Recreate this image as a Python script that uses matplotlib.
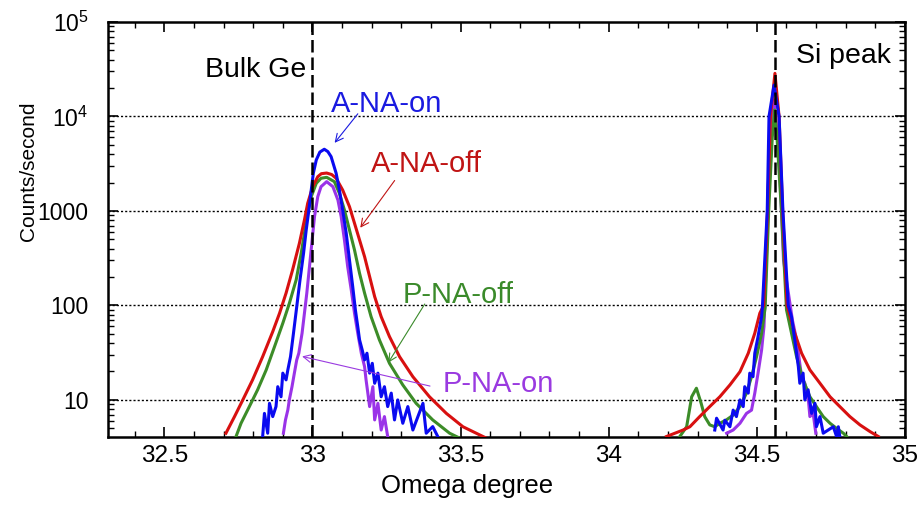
import numpy as np
import matplotlib
matplotlib.use("Agg")
import matplotlib.pyplot as plt
from matplotlib.ticker import FixedLocator, MultipleLocator, LogLocator, NullFormatter

plt.rcParams['font.family'] = ['Liberation Sans', 'DejaVu Sans']
plt.rcParams['mathtext.fontset'] = 'custom'
plt.rcParams['mathtext.rm'] = 'Liberation Sans'
plt.rcParams['mathtext.it'] = 'Liberation Sans'

NaN = float('nan')

# A-NA-off: Ge peak, gap, Si peak
a_off_omega = [32.708, 32.737, 32.765, 32.798, 32.832, 32.866, 32.889, 32.911, 32.933,
               32.956, 32.973, 32.984, 33.001, 33.018, 33.030, 33.048, 33.065, 33.080,
               33.102, 33.125, 33.142, 33.159, 33.176, 33.193, 33.210, 33.232, 33.260,
               33.294, 33.339, 33.395, 33.452, 33.508, 33.564, 33.587,
               NaN,
               34.195, 34.251, 34.274, 34.307, 34.341, 34.375, 34.409, 34.443, 34.471,
               34.493, 34.510, 34.523, 34.536, 34.546, 34.561, 34.575, 34.587, 34.602,
               34.613, 34.628, 34.651, 34.679, 34.713, 34.747, 34.780, 34.814, 34.848,
               34.882, 34.910]
a_off_counts = [4.44, 6.66, 10, 16.3, 28.7, 52.8, 82.7, 135, 238,
                455, 803, 1206, 1807, 2307, 2480, 2520, 2430, 2218,
                1667, 1111, 741, 493, 328, 202, 124, 76, 46.8,
                28.7, 17.6, 10.8, 7.2, 5.2, 4.27, 3.94,
                NaN,
                4.1, 4.8, 5.2, 6.66, 8.5, 10.8, 14.4, 19.9, 31.2,
                50.8, 82.7, 100, 1000, 10000, 28600, 10000, 1000, 100,
                75, 50.8, 31.2, 20.8, 15, 10.8, 8.5, 6.66, 5.44,
                4.62, 4.1]

# P-NA-off
p_off_omega = [32.742, 32.759, 32.787, 32.815, 32.844, 32.872, 32.900, 32.922, 32.945,
               32.962, 32.973, 32.984, 32.996, 33.013, 33.029, 33.048, 33.074, 33.091,
               33.108, 33.125, 33.142, 33.159, 33.176, 33.198, 33.226, 33.260, 33.305,
               33.350, 33.406, 33.463, 33.497,
               NaN,
               34.240, 34.263, 34.280, 34.296, 34.312, 34.324, 34.341, 34.358, 34.375,
               34.397, 34.420, 34.443, 34.465, 34.482, 34.499, 34.516, 34.528, 34.540,
               34.552, 34.560, 34.568, 34.583, 34.600, 34.617, 34.634, 34.656, 34.679,
               34.701, 34.724, 34.747, 34.769, 34.792, 34.803]
p_off_counts = [4.09, 5.66, 8.49, 12.8, 20.8, 36.6, 64.8, 105, 186,
                356, 581, 946, 1417, 1963, 2218, 2270, 2043, 1538,
                1025, 629, 386, 219, 135, 76, 43.2, 24.4, 14.4,
                9.2, 6.14, 4.44, 3.94,
                NaN,
                4.1, 5.2, 10.8, 13.3, 9.2, 6.66, 5.44, 5.2, 5.66,
                6.14, 6.9, 8.5, 11.8, 17.6, 28.7, 50.8, 95, 1000,
                6000, 11700, 6000, 1000, 90, 50.8, 28.7, 16.3, 10.8,
                8.5, 6.66, 5.66, 5.0, 4.44, 4.1]

# A-NA-on
a_on_omega = [32.832, 32.838, 32.849, 32.855, 32.866, 32.877, 32.883, 32.894, 32.900,
              32.911, 32.917, 32.926, 32.936, 32.947, 32.958, 32.970, 32.979, 32.988,
              32.996, 33.003, 33.013, 33.025, 33.040, 33.052, 33.063, 33.080, 33.091,
              33.102, 33.114, 33.125, 33.136, 33.145, 33.153, 33.159, 33.168, 33.176,
              33.184, 33.193, 33.202, 33.210, 33.221, 33.232, 33.243, 33.254, 33.266,
              33.277, 33.288, 33.305, 33.322, 33.339, 33.356, 33.373, 33.384, 33.406,
              33.423,
              NaN,
              34.358, 34.364, 34.386, 34.392, 34.409, 34.420, 34.431, 34.443, 34.454,
              34.459, 34.471, 34.476, 34.487, 34.493, 34.504, 34.516, 34.519, 34.535,
              34.541, 34.558, 34.575, 34.588, 34.606, 34.617, 34.628, 34.640, 34.645,
              34.656, 34.662, 34.673, 34.685, 34.696, 34.701, 34.713, 34.724, 34.758,
              34.769, 34.775, 34.780]
a_on_counts = [4.1, 7.2, 4.44, 9.2, 6.66, 8.5, 13.8, 10.8, 19.2,
               16.3, 20.8, 28.7, 50.8, 97, 186, 356, 629, 1025,
               1667, 2506, 3467, 4200, 4500, 4250, 3758, 2506, 1667,
               1025, 581, 303, 158, 89.5, 59.7, 43.2, 33.8, 26.5,
               31.2, 19.2, 24.4, 15.0, 19.2, 10.8, 13.8, 8.5, 11.8,
               6.14, 10, 5.66, 8.5, 4.8, 6.66, 9.2, 4.44, 5.22,
               4.1,
               NaN,
               4.8, 6.4, 4.8, 6.1, 5.2, 7.8, 6.66, 10, 8.5,
               13.8, 11.8, 19.2, 17.6, 31.2, 46.8, 76, 100, 1000,
               10000, 21500, 10000, 1000, 100, 76, 43.2, 22.5, 15,
               19.2, 10, 12.8, 7.2, 9.2, 5.2, 6.66, 4.44, 5.2,
               4.1, 5.2, 4.1]

# P-NA-on
p_on_omega = [32.902, 32.909, 32.917, 32.922, 32.931, 32.939, 32.947, 32.954, 32.965,
              32.973, 32.981, 32.990, 32.999, 33.007, 33.018, 33.029, 33.048, 33.069,
              33.086, 33.097, 33.108, 33.119, 33.131, 33.142, 33.153, 33.165, 33.176,
              33.181, 33.187, 33.193, 33.204, 33.210, 33.221, 33.232, 33.243, 33.254,
              NaN,
              34.398, 34.420, 34.443, 34.465, 34.482, 34.493, 34.504, 34.516, 34.524,
              34.532, 34.542, 34.558, 34.575, 34.590, 34.620, 34.634, 34.651, 34.662,
              34.673, 34.679, 34.690, 34.699]
p_on_counts = [4.44, 6.14, 7.84, 10, 13.8, 19.2, 26.5, 31.2, 50.8,
               82.7, 135, 257, 493, 871, 1417, 1807, 2043, 1807,
               1306, 871, 493, 257, 146, 82.7, 50.8, 31.2, 22.5,
               16.3, 11.8, 8.5, 13.8, 6.14, 9.2, 4.8, 6.66, 4.1,
               NaN,
               4.44, 4.8, 5.66, 7.2, 7.8, 11.8, 19.2, 33.8, 59.7,
               300, 4000, 15000, 4000, 300, 70, 43.2, 17.6, 15,
               10.8, 6.66, 7.2, 4.44]

# Reference positions (Bulk Ge and Si peak)
ref_positions = [33.0, 34.56]
ref_labels = ["Bulk Ge", "Si peak"]

x_ticks = [32.5, 33, 33.5, 34, 34.5, 35]
x_tick_labels = ["32.5", "33", "33.5", "34", "34.5", "35"]
y_ticks = [10, 100, 1000, 1e4, 1e5]
y_tick_labels = ["10", "100", "1000", "10$^4$", "10$^5$"]

c_blue = "#0a0af0"
c_red = "#d81010"
c_green = "#3c8c28"
c_purple = "#9a33e8"

fig = plt.figure(figsize=(9.17, 5.08), dpi=100)
ax = fig.add_axes([108/917, 71/508, 797/917, 415/508])

ax.set_yscale('log')
ax.set_xlim(32.31, 35.0)
ax.set_ylim(4.05, 1e5)

for y in y_ticks[:-1]:
    ax.axhline(y, color='black', lw=1.0, linestyle=(0, (1.5, 1.5)), zorder=1)

lw = 2.2
ax.plot(p_on_omega, p_on_counts, color=c_purple, lw=lw, zorder=3)
ax.plot(p_off_omega, p_off_counts, color=c_green, lw=lw, zorder=4)
ax.plot(a_off_omega, a_off_counts, color=c_red, lw=lw, zorder=5)
ax.plot(a_on_omega, a_on_counts, color=c_blue, lw=lw, zorder=6)

for xp in ref_positions:
    ax.axvline(xp, color='black', lw=1.8, linestyle=(0, (5, 2)), zorder=7)

ax.text(32.98, 26200, ref_labels[0], fontsize=20.5, ha='right', va='baseline', color='black')
ax.text(34.632, 37100, ref_labels[1], fontsize=20.5, ha='left', va='baseline', color='black')

# Series labels with arrows
labels = [
    ("A-NA-on", "#1a1ae0", (33.063, 11070), (33.159, 11250), (33.069, 4990)),
    ("A-NA-off", "#c01414", (33.198, 2607), (33.283, 2218), (33.156, 629)),
    ("P-NA-off", "#3a8a2a", (33.305, 105.4), (33.384, 109.6), (33.251, 23.4)),
    ("P-NA-on", "#9a3ae0", (33.440, 12.25), (33.406, 13.8), (32.956, 29.3)),
]
for text, col, tpos, tail, head in labels:
    ax.text(tpos[0], tpos[1], text, fontsize=21, color=col, ha='left', va='baseline', zorder=8)
    ax.annotate("", xy=head, xytext=tail,
                arrowprops=dict(arrowstyle="->", color=col, lw=0.8,
                                mutation_scale=14), zorder=8)

ax.xaxis.set_major_locator(FixedLocator(x_ticks))
ax.set_xticklabels(x_tick_labels)
ax.xaxis.set_minor_locator(MultipleLocator(0.1))
ax.yaxis.set_major_locator(FixedLocator(y_ticks))
ax.set_yticklabels(y_tick_labels)
ax.yaxis.set_minor_locator(LogLocator(base=10, subs=np.arange(2, 10)))
ax.yaxis.set_minor_formatter(NullFormatter())

ax.tick_params(which='both', direction='in', top=True, right=True)
ax.tick_params(which='major', length=7, width=1.2)
ax.tick_params(which='minor', length=4, width=1.0)
ax.tick_params(axis='y', which='major', pad=14, labelsize=16.5)
ax.tick_params(axis='x', which='major', pad=6, labelsize=17.5)

for sp in ax.spines.values():
    sp.set_linewidth(1.8)

ax.set_xlabel("Omega degree", fontsize=18.5)
ax.set_ylabel("Counts/second", fontsize=15)
ax.xaxis.set_label_coords(0.45, -0.09)
ax.yaxis.set_label_coords(-0.088, 0.64)

fig.savefig("out.png", dpi=100)
